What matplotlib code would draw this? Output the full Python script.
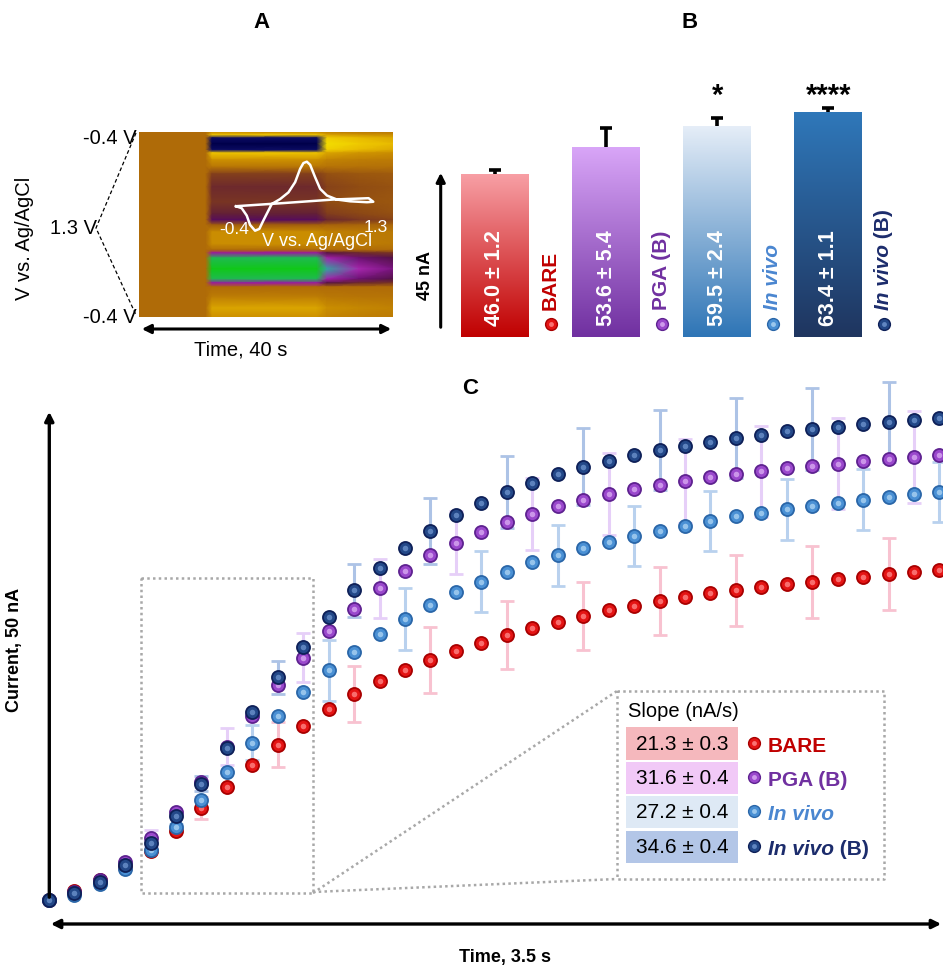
import numpy as np
import matplotlib
matplotlib.use('Agg')
import matplotlib.pyplot as plt
from matplotlib.colors import LinearSegmentedColormap
from matplotlib.patches import Rectangle, FancyArrowPatch
from matplotlib.lines import Line2D

plt.rcParams['font.family'] = ['Liberation Sans', 'DejaVu Sans']

# ---------------------------------------------------------------- data
# Panel A : FSCV colour plot (CV shape along the scan x concentration over time)
cp_time_s = [0.0, 10.5, 11.5, 28.0, 29.6, 34.6, 40.0]
cp_conc = [0.0, 0.0, 1.0, 1.0, 0.65, 0.5, 0.4]
cp_scan_pt = [0, 3, 6, 12, 18, 21, 28, 35, 42, 55, 70, 82, 88, 93, 100, 112,
              118, 121, 126, 137, 147, 151, 155, 165, 176, 185]
cp_cv_current = [-0.15, -0.45, -0.8, -1.0, -0.8, -0.45, -0.2, -0.05, 0.15, 0.22,
                 0.18, 0.25, 0.35, 0.05, -0.18, -0.18, 0.0, 0.45, 0.75, 1.0, 0.75,
                 0.45, 0.0, -0.1, -0.3, -0.2]
# Panel A inset : cyclic voltammogram
cv_potential = [-0.40, -0.329, -0.267, -0.226, -0.164, -0.111, -0.061, -0.019, 0.043,
                0.146, 0.249, 0.332, 0.394, 0.435, 0.477, 0.518, 0.580, 0.642, 0.726,
                0.850, 1.015, 1.222, 1.30, 1.242, 0.804, 0.183, -0.40]
cv_current = [0.0, -0.045, -0.21, -0.42, -0.55, -0.51, -0.32, -0.17, 0.05, 0.16, 0.31,
              0.54, 0.84, 0.97, 1.0, 0.93, 0.65, 0.39, 0.24, 0.15, 0.11, 0.09, 0.10,
              0.18, 0.15, 0.07, 0.0]

# Panel B : peak currents
groups = ['BARE', 'PGA (B)', 'In vivo', 'In vivo (B)']
peak_current = [46.0, 53.6, 59.5, 63.4]
peak_sd = [1.2, 5.4, 2.4, 1.1]
significance = ['', '', '*', '****']

# Panel C : current vs time
time_s = [0.0, 0.1, 0.2, 0.3, 0.4, 0.5, 0.6, 0.7, 0.8, 0.9, 1.0, 1.1, 1.2, 1.3, 1.4,
          1.5, 1.6, 1.7, 1.8, 1.9, 2.0, 2.1, 2.2, 2.3, 2.4, 2.5, 2.6, 2.7, 2.8, 2.9,
          3.0, 3.1, 3.2, 3.3, 3.4, 3.5]
bare = [0.0, 0.9, 2.0, 3.4, 5.0, 7.0, 9.4, 11.6, 13.8, 15.9, 17.8, 19.5, 21.1, 22.4,
        23.5, 24.6, 25.5, 26.3, 27.1, 27.9, 28.5, 29.1, 29.7, 30.1, 30.6, 31.0, 31.4,
        31.7, 32.1, 32.4, 32.6, 32.9, 33.1, 33.4, 33.6, 33.8]
pga_b = [0.0, 0.8, 2.0, 3.9, 6.3, 9.0, 12.1, 15.7, 18.8, 22.0, 24.8, 27.5, 29.8, 31.9,
         33.7, 35.3, 36.6, 37.7, 38.7, 39.5, 40.4, 41.0, 41.6, 42.1, 42.5, 42.9, 43.3,
         43.6, 43.9, 44.2, 44.5, 44.7, 45.0, 45.2, 45.4, 45.6]
in_vivo = [0.0, 0.5, 1.6, 3.1, 5.1, 7.5, 10.2, 13.1, 16.1, 18.8, 21.3, 23.5, 25.4, 27.2,
           28.8, 30.2, 31.5, 32.6, 33.6, 34.6, 35.3, 36.0, 36.7, 37.3, 37.8, 38.3, 38.8,
           39.3, 39.6, 40.0, 40.4, 40.7, 41.0, 41.3, 41.6, 41.8]
in_vivo_b = [0.0, 0.7, 1.8, 3.6, 5.8, 8.6, 11.9, 15.5, 19.2, 22.8, 25.9, 29.0, 31.7, 34.0,
             36.1, 37.8, 39.4, 40.7, 41.8, 42.7, 43.6, 44.4, 45.0, 45.6, 46.1, 46.5, 46.9,
             47.3, 47.6, 48.0, 48.2, 48.5, 48.8, 49.0, 49.2, 49.4]
# error bars shown on every third sample (offsets 0, 1, 2, 0)
bare_err = [0.0, 0.3, 1.1, 2.3, 2.9, 3.4, 3.5, 3.5, 3.5, 3.6, 3.7, 3.7]
pga_b_err = [0.0, 0.8, 1.9, 2.5, 3.0, 3.2, 3.7, 4.2, 4.3, 4.7, 4.7, 4.7]
in_vivo_err = [0.1, 0.3, 1.8, 3.1, 3.2, 3.1, 3.1, 3.1, 3.1, 3.1, 3.1, 3.1]
in_vivo_b_err = [0.0, 0.3, 0.8, 1.7, 2.7, 3.4, 3.7, 3.9, 4.1, 4.1, 4.2, 4.1]
err_offset = [0, 1, 2, 0]
slope = [21.3, 31.6, 27.2, 34.6]
slope_sd = [0.3, 0.4, 0.4, 0.4]

# ---------------------------------------------------------------- styles
W, H = 943, 970
def fx(x): return x / W
def fy(y): return 1 - y / H
def rect(x0, y0, x1, y1): return [x0 / W, 1 - y1 / H, (x1 - x0) / W, (y1 - y0) / H]

face = ['#e41414', '#9a48cc', '#4a90d4', '#234888']
edge = ['#a80000', '#5e2290', '#2a66a8', '#0e2058']
shine = ['#ff8c8c', '#dcb0f4', '#b0d6f4', '#7096d0']
err_col = ['#f8c2d0', '#e6cff8', '#b9d1ee', '#adc3e6']
label_col = ['#c00000', '#7030a0', '#4a86d0', '#1c2c6c']
bar_top = ['#f8a0a6', '#d9a6f8', '#e6eef8', '#2f78ba']
bar_bot = ['#c00000', '#7030a0', '#2e75b6', '#1f355f']
cell_col = ['#f5b8bd', '#f1c9f7', '#dee9f5', '#b3c6e7']
FS = 14.5

fig = plt.figure(figsize=(9.43, 9.70), dpi=100)

# ---------------------------------------------------------------- panel A
fscv = LinearSegmentedColormap.from_list('fscv', [
    (0.000, '#00004a'), (0.100, '#0c0c64'), (0.140, '#f4e600'), (0.275, '#eec400'),
    (0.400, '#cc9000'), (0.500, '#b06c08'), (0.560, '#8e4a14'), (0.610, '#6e2a2c'),
    (0.665, '#4a0a50'), (0.725, '#9a1aa0'), (0.770, '#b030b8'), (0.830, '#30a8a0'),
    (0.900, '#18c030'), (1.000, '#10c818')])
axA = fig.add_axes(rect(139, 133, 393, 318))
T, S = np.meshgrid(cp_time_s, cp_scan_pt)
C = np.outer(cp_cv_current, cp_conc)
axA.pcolormesh(T, S, C, cmap=fscv, vmin=-1, vmax=1, shading='gouraud')
axA.set_xlim(0, 40)
axA.set_ylim(185, 0)
axA.axis('off')

axCV = fig.add_axes(rect(236, 162.7, 373.3, 231.7))
axCV.plot(cv_potential, cv_current, color='white', lw=1.8, clip_on=False)
axCV.set_xlim(-0.4, 1.3)
axCV.set_ylim(-0.55, 1.0)
axCV.axis('off')
axCV.patch.set_alpha(0)

fig.text(fx(234), fy(230), '-0.4', color='white', fontsize=12.5, ha='center', va='center')
fig.text(fx(376), fy(227), '1.3', color='white', fontsize=12.5, ha='center', va='center')
fig.text(fx(317), fy(241), 'V vs. Ag/AgCl', color='white', fontsize=13, ha='center', va='center')

fig.text(fx(137), fy(139), '-0.4 V', fontsize=FS, ha='right', va='center')
fig.text(fx(97), fy(229), '1.3 V', fontsize=FS, ha='right', va='center')
fig.text(fx(137), fy(318), '-0.4 V', fontsize=FS, ha='right', va='center')
fig.add_artist(Line2D([fx(136), fx(96), fx(136)], [fy(134), fy(229), fy(316)],
                      transform=fig.transFigure, color='black', lw=0.9, ls=(0, (3, 2))))
fig.text(fx(25), fy(238), 'V vs. Ag/AgCl', fontsize=FS, rotation=90, ha='center', va='center')
fig.add_artist(FancyArrowPatch((fx(139), fy(330)), (fx(394), fy(330)), transform=fig.transFigure,
                               arrowstyle='<|-|>', mutation_scale=13, lw=2.2, color='black'))
fig.text(fx(241), fy(350), 'Time, 40 s', fontsize=FS, ha='center', va='center')

# ---------------------------------------------------------------- panel B
axB = fig.add_axes(rect(420, 60, 943, 338.3))
pos = np.arange(len(groups))
bars = axB.bar(pos, peak_current, width=0.612, color='none', edgecolor='none')
grad = np.linspace(0, 1, 256).reshape(-1, 1)
for b, ct, cb in zip(bars, bar_top, bar_bot):
    x0, y0 = b.get_xy()
    cm = LinearSegmentedColormap.from_list('g', [cb, ct])
    im = axB.imshow(grad, cmap=cm, origin='lower', aspect='auto', zorder=1,
                    extent=[x0, x0 + b.get_width(), y0, y0 + b.get_height()])
    im.set_clip_path(b)
eb = axB.errorbar(pos, peak_current, yerr=[np.zeros(len(pos)), peak_sd], fmt='none',
                  ecolor='black', elinewidth=2.6, capsize=4.5, capthick=2.6, zorder=3)
eb[1][0].set_visible(False)   # hide lower caps (one-sided bars)
for p, v, sd, g, c, sig in zip(pos, peak_current, peak_sd, groups, label_col, significance):
    axB.text(p, 3.5, f'{v:.1f} ± {sd:.1f}', rotation=90, ha='center', va='bottom',
             color='white', weight='bold', fontsize=15.5, zorder=4)
    axB.plot(p + 0.5, 3.75, 'o', ms=8.5, mfc=face[p], mec=edge[p], mew=1.0, zorder=4)
    axB.plot(p + 0.5, 3.75, 'o', ms=3.5, mfc=shine[p], mec='none', alpha=0.8, zorder=5)
    if g.startswith('In vivo'):
        t1 = axB.text(p + 0.5, 8.0, 'In vivo', rotation=90, ha='center', va='bottom',
                      color=c, weight='bold', style='italic', fontsize=15)
        if g.endswith('(B)'):
            axB.annotate(' (B)', xy=(0.5, 1.0), xycoords=t1, rotation=90, ha='center',
                         va='bottom', color=c, weight='bold', fontsize=15)
    else:
        axB.text(p + 0.5, 8.0, g, rotation=90, ha='center', va='bottom',
                 color=c, weight='bold', fontsize=15)
    if sig:
        axB.text(p, 66.0, sig, ha='center', va='baseline', fontsize=21, weight='bold')
axB.set_xlim(-0.675, 4.032)
axB.set_ylim(0, (338.3 - 60) / 3.55)
axB.axis('off')

fig.add_artist(FancyArrowPatch((fx(440.7), fy(331)), (fx(440.7), fy(171)), transform=fig.transFigure,
                               arrowstyle='-|>', mutation_scale=13, lw=2.2, color='black'))
fig.text(fx(425), fy(275), '45 nA', fontsize=13, weight='bold', rotation=90, ha='center', va='center')

# ---------------------------------------------------------------- panel C
axC = fig.add_axes(rect(30, 380, 943, 935))
t = np.array(time_s)
series = [bare, pga_b, in_vivo, in_vivo_b]
errs = [bare_err, pga_b_err, in_vivo_err, in_vivo_b_err]
for k, (s, e, off) in enumerate(zip(series, errs, err_offset)):
    axC.errorbar(t[off::3], np.array(s)[off::3], yerr=e, fmt='none', ecolor=err_col[k],
                 elinewidth=2.2, capsize=5, capthick=2, zorder=2)
for k in [0, 1, 2, 3]:
    axC.plot(t, series[k], 'o', ms=9.4, mfc=face[k], mec=edge[k], mew=1.3, zorder=3 + k)
    axC.plot(t, series[k], 'o', ms=4.0, mfc=shine[k], mec='none', alpha=0.75, zorder=3 + k)
axC.set_xlim(-(48.7 - 30) / 254.5, 3.5 + (943 - 939.45) / 254.5)
axC.set_ylim(-(935 - 900.7) * 0.1025, (900.7 - 380) * 0.1025)
axC.axis('off')

dot = dict(color='#a8a8a8', lw=1.8, ls=(0, (1, 1.3)), transform=fig.transFigure, zorder=1)
def pline(xs, ys):
    axC.add_artist(Line2D([fx(x) for x in xs], [fy(y) for y in ys], clip_on=False, **dot))
pline([141, 313, 313, 141, 141], [579, 579, 894, 894, 579])
pline([313, 617], [894, 692])
pline([313, 617], [893, 880])
pline([617, 884, 884, 617, 617], [692, 692, 880, 880, 692])

fig.add_artist(FancyArrowPatch((fx(49.3), fy(901)), (fx(49.3), fy(410)), transform=fig.transFigure,
                               arrowstyle='-|>', mutation_scale=13, lw=2.4, color='black'))
fig.add_artist(FancyArrowPatch((fx(48), fy(925)), (fx(944), fy(925)), transform=fig.transFigure,
                               arrowstyle='<|-|>', mutation_scale=13, lw=2.4, color='black'))
fig.text(fx(15), fy(650), 'Current, 50 nA', fontsize=13, weight='bold', rotation=90,
         ha='center', va='center')
fig.text(fx(505), fy(958), 'Time, 3.5 s', fontsize=13, weight='bold', ha='center', va='center')

# legend table
fig.text(fx(628), fy(712), 'Slope (nA/s)', fontsize=FS, ha='left', va='center')
cell_y = [(728, 761), (763, 795), (797, 829), (832, 864)]
for k, ((y0, y1), g) in enumerate(zip(cell_y, groups)):
    fig.add_artist(Rectangle((fx(626), fy(y1)), (738 - 626) / W, (y1 - y0) / H,
                             transform=fig.transFigure, facecolor=cell_col[k], edgecolor='none'))
    cy = (y0 + y1) / 2
    fig.text(fx(682), fy(cy), f'{slope[k]:.1f} ± {slope_sd[k]:.1f}', fontsize=15,
             ha='center', va='center')
    fig.add_artist(Line2D([fx(754)], [fy(cy - 1)], transform=fig.transFigure, marker='o',
                          ms=8.5, mfc=face[k], mec=edge[k], mew=1.0))
    fig.add_artist(Line2D([fx(754)], [fy(cy - 1)], transform=fig.transFigure, marker='o',
                          ms=3.5, mfc=shine[k], mec='none', alpha=0.8))
    if g.startswith('In vivo'):
        t1 = fig.text(fx(768), fy(cy + 2), 'In vivo', fontsize=15, weight='bold', style='italic',
                      color=label_col[k], ha='left', va='center')
        if g.endswith('(B)'):
            plt.annotate(' (B)', xy=(1.0, 0.0), xycoords=t1, ha='left', va='bottom',
                         fontsize=15, weight='bold', color=label_col[k])
    else:
        fig.text(fx(768), fy(cy + 2), g, fontsize=15, weight='bold', color=label_col[k],
                 ha='left', va='center')

fig.text(fx(262), fy(22), 'A', fontsize=16, weight='bold', ha='center', va='center')
fig.text(fx(690), fy(22), 'B', fontsize=16, weight='bold', ha='center', va='center')
fig.text(fx(470), fy(388), 'C', fontsize=16, weight='bold', ha='center', va='center')

fig.savefig('out.png', dpi=100)
